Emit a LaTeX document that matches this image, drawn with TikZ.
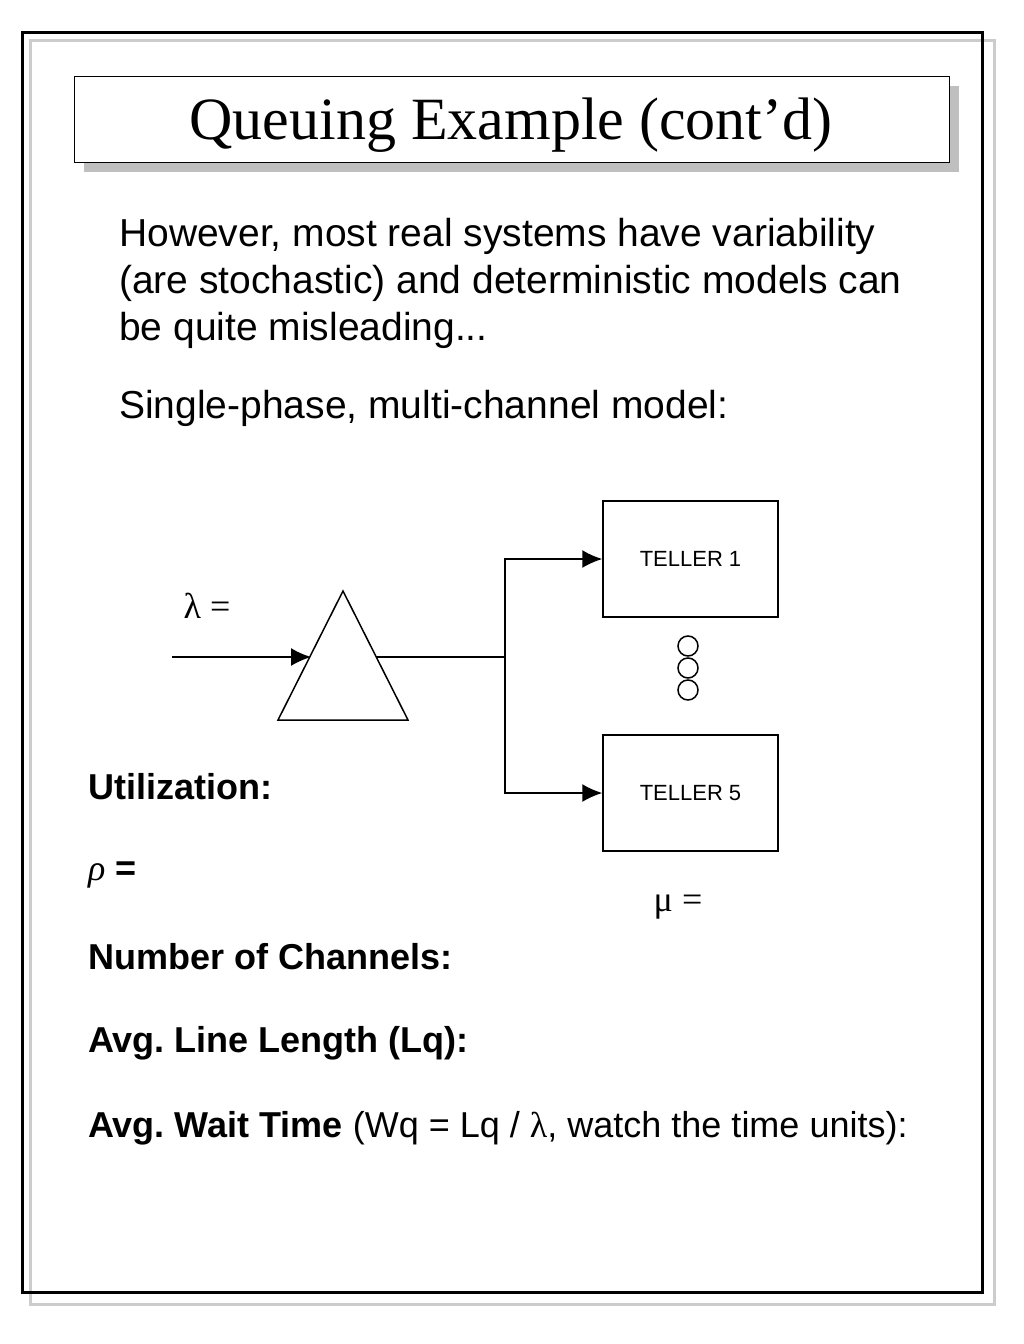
\documentclass[tikz,border=0pt]{standalone}
\usepackage{fontspec}
\setmainfont{Liberation Sans}
\newfontfamily\seriffont{Liberation Serif}
\usetikzlibrary{positioning}
\usetikzlibrary{arrows.meta}
\frenchspacing
\tikzset{
    body/.style={anchor=west, inner sep=0pt, font=\fontsize{39}{47}\selectfont, align=left},
    label/.style={anchor=west, inner sep=0pt, font=\bfseries\fontsize{36}{44}\selectfont},
    teller/.style={draw, line width=1.5pt, minimum width=175pt, minimum height=116pt, font=\fontsize{22}{26}\selectfont},
    flow/.style={line width=1.5pt},
    arrow/.style={flow, -{Latex[length=20pt,width=18pt]}},
}
\begin{document}
\begin{tikzpicture}[x=1pt,y=-1pt]
\useasboundingbox (0,0) rectangle (1024,1344);
% frames
\draw[gray!40, line width=3pt] (30,40) rectangle (994,1304);
\draw[line width=3pt] (22,32) rectangle (982,1292);
\fill[gray!50] (84,86) rectangle (959,172);
\draw[fill=white, line width=1pt] (74,76) rectangle (949,162);
\node (title) at (511,125) {\seriffont\fontsize{60}{66}\selectfont Queuing Example (cont’d)};
% body text
\node[body, anchor=north west] (intro) at (119,218) {However, most real systems have variability\\(are stochastic) and deterministic models can\\be quite misleading...};
\node[body] (model) at (119,408) {Single-phase, multi-channel model:};
% diagram
\node[teller] (t1) at (690.5,559) {TELLER 1};
\node[teller] (t5) at (690.5,793) {TELLER 5};
\coordinate (in) at (172,657);
\coordinate (apex) at (343,591);
\coordinate (bl) at (278,720);
\coordinate (br) at (408,720);
\draw[flow] (apex) -- (bl) -- (br) -- cycle;
\coordinate (tin) at (311,657);
\coordinate (tout) at (376,657);
\coordinate (split) at (505,657);
\draw[arrow] (in) -- (tin);
\draw[flow] (tout) -- (split);
\draw[arrow] (split) |- (t1.west);
\draw[arrow] (split) |- (t5.west);
\foreach \y in {646,668,690}
    \draw[flow] (688,\y) circle (10);
\node[font=\seriffont\fontsize{36}{40}\selectfont] (lambda) at (207,606) {λ =};
\node[font=\seriffont\fontsize{36}{40}\selectfont] (mu) at (678,907) {μ =};
% questions
\node[label] (util) at (88,787) {Utilization:};
\node[label] (rho) at (88,875) {{\seriffont\mdseries\itshape ρ} =};
\node[label] (chan) at (88,957) {Number of Channels:};
\node[label] (lq) at (88,1043) {Avg. Line Length (Lq):};
\node[label, font=\fontsize{36}{44}\selectfont] (wq) at (88,1128) {\textbf{Avg. Wait Time} (Wq = Lq / {\seriffont λ}, watch the time units):};
\end{tikzpicture}
\end{document}
